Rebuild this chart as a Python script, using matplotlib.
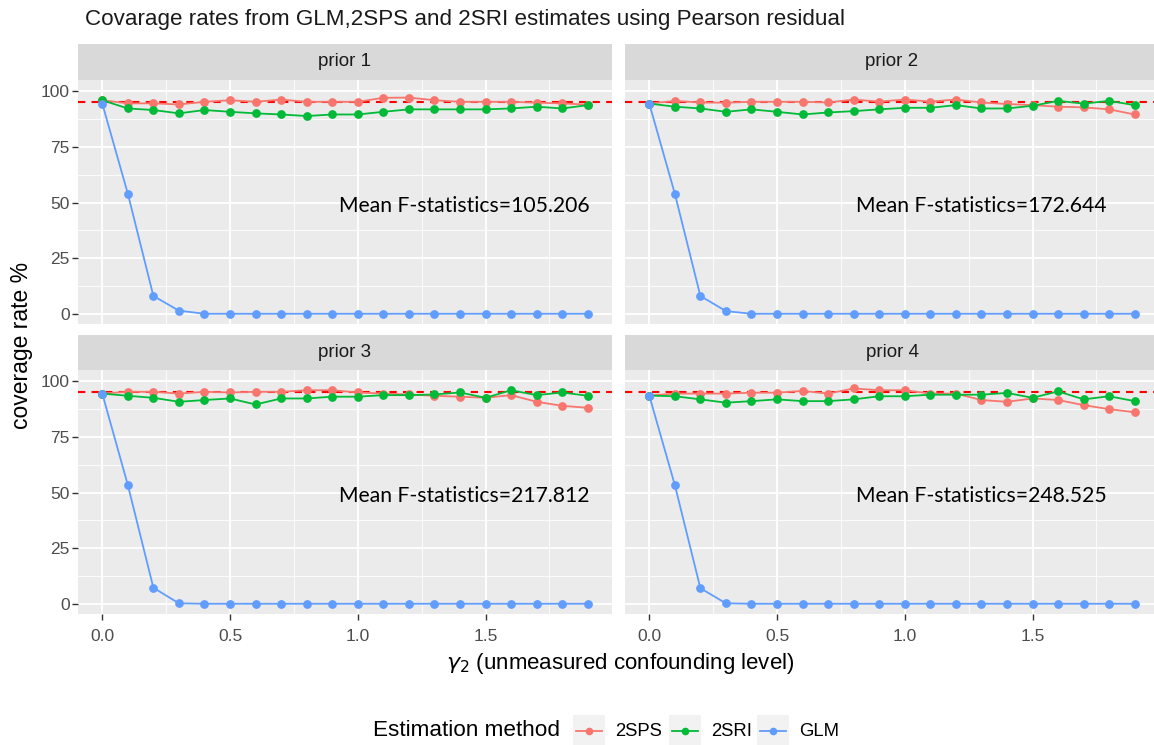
import matplotlib
matplotlib.use("Agg")
import matplotlib.pyplot as plt
from matplotlib.patches import Rectangle
from matplotlib.lines import Line2D
import numpy as np

# ---------------- data ----------------
gamma2 = [0.0, 0.1, 0.2, 0.3, 0.4, 0.5, 0.6, 0.7, 0.8, 0.9,
          1.0, 1.1, 1.2, 1.3, 1.4, 1.5, 1.6, 1.7, 1.8, 1.9]

priors = ["prior 1", "prior 2", "prior 3", "prior 4"]

sps_1 = [96.0, 94.6, 94.6, 94.1, 95.3, 96.0, 95.3, 96.3, 95.3, 95.3,
         95.3, 97.1, 97.2, 96.0, 95.3, 95.3, 95.3, 94.9, 94.6, 94.0]
sri_1 = [96.0, 92.3, 91.6, 90.1, 91.6, 90.8, 90.1, 89.6, 88.9, 89.6,
         89.6, 90.8, 91.9, 91.9, 91.9, 91.9, 92.3, 93.1, 92.3, 93.8]
glm_1 = [94.5, 54.0, 8.0, 1.4, 0, 0, 0, 0, 0, 0,
         0, 0, 0, 0, 0, 0, 0, 0, 0, 0]

sps_2 = [94.5, 95.7, 95.0, 94.9, 95.3, 95.3, 95.3, 95.0, 96.3, 95.4,
         96.3, 95.4, 96.3, 95.0, 94.3, 93.8, 93.1, 92.8, 91.9, 89.6]
sri_2 = [94.5, 93.1, 92.3, 90.8, 91.9, 90.8, 89.6, 90.5, 91.1, 91.9,
         92.6, 92.6, 93.8, 92.3, 92.3, 93.5, 95.7, 94.5, 95.7, 93.8]
glm_2 = [94.5, 54.0, 8.0, 1.2, 0, 0, 0, 0, 0, 0,
         0, 0, 0, 0, 0, 0, 0, 0, 0, 0]

sps_3 = [94.5, 95.3, 95.3, 94.5, 95.3, 95.0, 95.3, 95.3, 96.0, 96.0,
         95.0, 94.5, 94.1, 93.5, 93.1, 92.6, 93.8, 90.8, 89.0, 88.1]
sri_3 = [94.5, 93.5, 92.6, 90.8, 91.6, 92.3, 89.6, 92.3, 92.3, 93.1,
         93.1, 93.8, 93.8, 94.1, 95.0, 92.6, 96.0, 93.8, 95.0, 93.5]
glm_3 = [94.5, 53.4, 7.2, 0.2, 0, 0, 0, 0, 0, 0,
         0, 0, 0, 0, 0, 0, 0, 0, 0, 0]

sps_4 = [93.6, 94.5, 94.5, 94.5, 94.9, 94.9, 95.7, 94.5, 96.8, 96.0,
         96.0, 94.5, 94.5, 91.6, 90.8, 92.3, 91.6, 89.3, 87.5, 86.1]
sri_4 = [93.6, 93.3, 91.9, 90.4, 91.1, 91.9, 91.1, 91.1, 91.9, 93.3,
         93.3, 94.0, 94.0, 94.0, 94.8, 92.6, 95.5, 91.9, 93.3, 91.1]
glm_4 = [93.6, 53.4, 7.0, 0.2, 0, 0, 0, 0, 0, 0,
         0, 0, 0, 0, 0, 0, 0, 0, 0, 0]

f_stats = ["Mean F-statistics=105.206", "Mean F-statistics=172.644",
           "Mean F-statistics=217.812", "Mean F-statistics=248.525"]
f_text_x = [1.416, 1.30, 1.416, 1.30]
f_text_y = [48.6, 48.6, 48.5, 48.5]

nominal = 95

methods = ["2SPS", "2SRI", "GLM"]
colors = {"2SPS": "#F8766D", "2SRI": "#00BA38", "GLM": "#619CFF"}

series = [
    {"2SPS": sps_1, "2SRI": sri_1, "GLM": glm_1},
    {"2SPS": sps_2, "2SRI": sri_2, "GLM": glm_2},
    {"2SPS": sps_3, "2SRI": sri_3, "GLM": glm_3},
    {"2SPS": sps_4, "2SRI": sri_4, "GLM": glm_4},
]

yticks = [0, 25, 50, 75, 100]
xticks = [0.0, 0.5, 1.0, 1.5]
xtick_labels = ["0.0", "0.5", "1.0", "1.5"]

# ---------------- layout ----------------
W, H = 1154, 745
plt.rcParams['font.family'] = ['Liberation Sans', 'DejaVu Sans']
fig = plt.figure(figsize=(W / 100, H / 100), dpi=100)


def rect(x0, x1, y0, y1):
    return [x0 / W, 1 - y1 / H, (x1 - x0) / W, (y1 - y0) / H]


panel_px = [
    (78, 612, 80, 324),
    (625, 1159, 80, 324),
    (78, 612, 370, 614),
    (625, 1159, 370, 614),
]
strip_px = [(44, 80), (44, 80), (335, 370), (335, 370)]

for i, (x0, x1, y0, y1) in enumerate(panel_px):
    ax = fig.add_axes(rect(x0, x1, y0, y1))
    ax.set_facecolor("#EBEBEB")
    for s in ax.spines.values():
        s.set_visible(False)
    ax.set_xlim(-0.095, 1.995)
    ax.set_ylim(-4.6, 105.1)
    ax.set_xticks(xticks)
    ax.set_xticks([0.25, 0.75, 1.25, 1.75], minor=True)
    ax.set_yticks(yticks)
    ax.set_yticks([12.5, 37.5, 62.5, 87.5], minor=True)
    ax.grid(which="major", color="white", linewidth=1.3)
    ax.grid(which="minor", color="white", linewidth=0.6)
    ax.set_axisbelow(True)
    ax.tick_params(which="minor", length=0)
    ax.tick_params(which="major", color="#333333", length=4, width=1,
                   labelcolor="#4D4D4D", labelsize=12.5, pad=2)
    ax.tick_params(axis="x", which="major", pad=7)
    if i % 2 == 0:
        ax.set_yticklabels([str(v) for v in yticks])
    else:
        ax.tick_params(axis="y", which="major", length=0, labelleft=False)
    if i >= 2:
        ax.set_xticklabels(xtick_labels)
    else:
        ax.tick_params(axis="x", which="major", length=0, labelbottom=False)

    ax.axhline(nominal, color="red", linestyle=(0, (3.5, 3)), linewidth=1.5, zorder=2)
    for m in methods:
        ax.plot(gamma2, series[i][m], color=colors[m], linewidth=1.3,
                marker="o", markersize=6.3, markeredgewidth=0, zorder=3)

    ax.text(f_text_x[i], f_text_y[i], f_stats[i], ha="center", va="center",
            fontsize=15.2, family=["Lato", "DejaVu Sans"], color="black", zorder=5)

    # strip
    sy0, sy1 = strip_px[i]
    sax = fig.add_axes(rect(x0, x1, sy0, sy1))
    sax.set_facecolor("#D9D9D9")
    sax.set_xticks([])
    sax.set_yticks([])
    for s in sax.spines.values():
        s.set_visible(False)
    sax.text(0.5, 0.5, priors[i], ha="center", va="center", fontsize=13.5,
             color="#1A1A1A", transform=sax.transAxes)

# titles
fig.text(85 / W, 1 - 20 / H,
         "Covarage rates from GLM,2SPS and 2SRI estimates using Pearson residual",
         ha="left", va="center", fontsize=16.1, color="#1A1A1A")
fig.text(22 / W, 1 - 345 / H, "coverage rate %", rotation=90, ha="center",
         va="center", fontsize=16.5, color="black")
fig.text(620 / W, 1 - 663 / H, r"$\gamma_2$ (unmeasured confounding level)",
         ha="center", va="center", fontsize=16, color="black")

# legend (drawn manually, ggplot-style with title on the left)
fig.text(373 / W, 1 - 731 / H, "Estimation method", ha="left", va="center",
         fontsize=16.2, color="black")
key_x = [573, 669, 757]
for k, m in enumerate(methods):
    kx = key_x[k]
    fig.patches.append(Rectangle((kx / W, 1 - 747 / H), 32 / W, 32 / H,
                                 transform=fig.transFigure, facecolor="#F2F2F2",
                                 edgecolor="none"))
    fig.lines.append(Line2D([(kx + 3) / W, (kx + 29) / W], [1 - 731 / H, 1 - 731 / H],
                            transform=fig.transFigure, color=colors[m], linewidth=1.3))
    fig.lines.append(Line2D([(kx + 16) / W], [1 - 731 / H], transform=fig.transFigure,
                            color=colors[m], marker="o", markersize=5.5,
                            markeredgewidth=0))
    fig.text((kx + 42) / W, 1 - 731 / H, m, ha="left", va="center",
             fontsize=13.3, color="black")

fig.savefig("out.png", dpi=100, facecolor="white")
